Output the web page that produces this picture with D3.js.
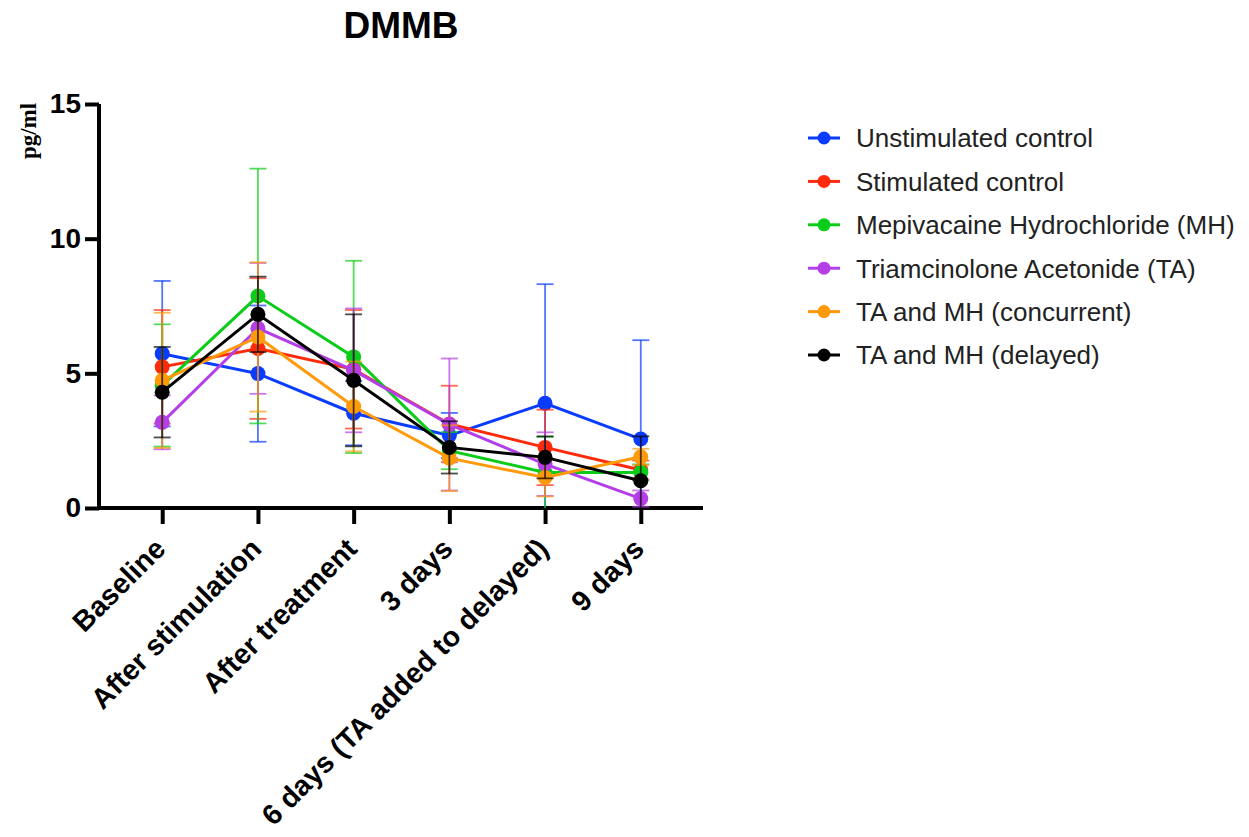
<!DOCTYPE html>
<html>
<head>
<meta charset="utf-8">
<script src="https://cdn.jsdelivr.net/npm/d3@7"></script>
<style>
  body { margin: 0; background: #fff; }
  svg { display: block; }
  .axis text { font-family: "Liberation Sans", Arial, sans-serif; font-weight: bold; font-size: 28px; fill: #000; }
  .axis path, .axis line { stroke: #000; stroke-width: 4px; }
  .xaxis .tick text { font-size: 28.5px; }
</style>
</head>
<body>
<div class="chart"></div>
<script>
// data (mean and SD per time point)
const categories = ['Baseline', 'After stimulation', 'After treatment', '3 days', '6 days (TA added to delayed)', '9 days'];
const seriesNames = ['Unstimulated control', 'Stimulated control', 'Mepivacaine Hydrochloride (MH)', 'Triamcinolone Acetonide (TA)', 'TA and MH (concurrent)', 'TA and MH (delayed)'];
const seriesColors = ['#0a3cff', '#ff2a0a', '#0ccc1a', '#b43ee8', '#ff9a0a', '#000000'];

const unstimMean = [5.73, 4.99, 3.52, 2.69, 3.89, 2.56];
const unstimSD = [2.70, 2.53, 1.19, 0.84, 4.42, 3.67];
const stimMean = [5.24, 5.92, 5.15, 3.12, 2.25, 1.41];
const stimSD = [2.11, 2.61, 2.20, 1.42, 1.40, 0.35];
const mhMean = [4.55, 7.87, 5.61, 2.13, 1.32, 1.32];
const mhSD = [2.27, 4.73, 3.57, 0.69, 1.32, 0.30];
const taMean = [3.18, 6.67, 5.11, 3.10, 1.63, 0.35];
const taSD = [1.00, 2.43, 2.30, 2.45, 1.18, 0.30];
const concMean = [4.74, 6.35, 3.77, 1.85, 1.13, 1.90];
const concSD = [2.51, 2.77, 1.67, 1.22, 0.70, 0.30];
const delayMean = [4.30, 7.19, 4.74, 2.25, 1.88, 1.01];
const delaySD = [1.68, 1.40, 2.45, 0.97, 0.78, 1.65];

const yTicks = [0, 5, 10, 15];

const means = [unstimMean, stimMean, mhMean, taMean, concMean, delayMean];
const sds = [unstimSD, stimSD, mhSD, taSD, concSD, delaySD];

const series = seriesNames.map((name, i) => ({
  name: name,
  color: seriesColors[i],
  points: categories.map((c, j) => ({cat: c, mean: means[i][j], sd: sds[i][j]}))
}));

const w = 1249, h = 837;
const font = '"Liberation Sans", Arial, sans-serif';

const svg = d3.select('.chart')
  .append('svg')
  .attr('width', w)
  .attr('height', h);

const x = d3.scalePoint()
  .domain(categories)
  .range([100, 703])
  .padding(0.65);

const y = d3.scaleLinear()
  .domain([0, 15])
  .range([508, 104]);

// title
svg.append('text')
  .attr('x', 401)
  .attr('y', 38)
  .attr('text-anchor', 'middle')
  .style('font-family', font)
  .style('font-weight', 'bold')
  .style('font-size', '37px')
  .text('DMMB');

// y axis label (serif in the original)
svg.append('text')
  .attr('transform', 'translate(28,131) rotate(-90)')
  .attr('text-anchor', 'middle')
  .attr('dominant-baseline', 'central')
  .style('font-family', '"Liberation Serif", "Times New Roman", serif')
  .style('font-weight', 'bold')
  .style('font-size', '23px')
  .text('pg/ml');

// axes
const yAxis = svg.append('g')
  .attr('class', 'axis')
  .attr('transform', 'translate(99,0)')
  .call(d3.axisLeft(y).tickValues(yTicks).tickSize(14).tickSizeOuter(0).tickPadding(4));
yAxis.select('.domain').attr('d', `M0,${y(15)}V${y(0) + 2}`);

const xAxis = svg.append('g')
  .attr('class', 'axis xaxis')
  .attr('transform', 'translate(0,508)')
  .call(d3.axisBottom(x).tickSize(16).tickSizeOuter(0));
xAxis.select('.domain').attr('d', 'M97,0H703');

// rotated labels, top-right corner near the tick end
xAxis.selectAll('.tick text')
  .attr('text-anchor', 'end')
  .attr('x', 0)
  .attr('y', 0)
  .attr('dy', '0.72em')
  .attr('transform', 'translate(-10,28) rotate(-45)');

const line = d3.line()
  .x(d => x(d.cat))
  .y(d => y(d.mean));

// one group per series: line, error bars, markers
const gSeries = svg.selectAll('.series')
  .data(series)
  .enter()
  .append('g')
  .attr('class', 'series');

gSeries.append('path')
  .attr('d', d => line(d.points))
  .attr('fill', 'none')
  .attr('stroke', d => d.color)
  .attr('stroke-width', 3);

const capW = 8.5;

gSeries.each(function(s) {
  const g = d3.select(this);
  const bars = g.selectAll('.err')
    .data(s.points)
    .enter()
    .append('g')
    .attr('class', 'err')
    .attr('stroke', s.color)
    .attr('stroke-width', 1.8)
    .attr('stroke-opacity', 0.7);

  bars.append('line')
    .attr('x1', d => x(d.cat))
    .attr('x2', d => x(d.cat))
    .attr('y1', d => y(d.mean + d.sd))
    .attr('y2', d => y(Math.max(0, d.mean - d.sd)));

  bars.append('line')
    .attr('x1', d => x(d.cat) - capW)
    .attr('x2', d => x(d.cat) + capW)
    .attr('y1', d => y(d.mean + d.sd))
    .attr('y2', d => y(d.mean + d.sd));

  bars.filter(d => d.mean - d.sd > 0)
    .append('line')
    .attr('x1', d => x(d.cat) - capW)
    .attr('x2', d => x(d.cat) + capW)
    .attr('y1', d => y(d.mean - d.sd))
    .attr('y2', d => y(d.mean - d.sd));

  g.selectAll('circle')
    .data(s.points)
    .enter()
    .append('circle')
    .attr('cx', d => x(d.cat))
    .attr('cy', d => y(d.mean))
    .attr('r', 7.5)
    .attr('fill', s.color);
});

// legend
const legend = svg.append('g')
  .attr('transform', 'translate(808,138)');

const item = legend.selectAll('.item')
  .data(series)
  .enter()
  .append('g')
  .attr('class', 'item')
  .attr('transform', (d, i) => `translate(0,${i * 43.4})`);

item.append('line')
  .attr('x1', 0)
  .attr('x2', 32)
  .attr('stroke', d => d.color)
  .attr('stroke-width', 3);

item.append('circle')
  .attr('cx', 16)
  .attr('r', 6.5)
  .attr('fill', d => d.color);

item.append('text')
  .attr('x', 48)
  .attr('dy', '0.36em')
  .style('font-family', font)
  .style('font-size', '26px')
  .style('fill', '#222')
  .text(d => d.name);
</script>
</body>
</html>
